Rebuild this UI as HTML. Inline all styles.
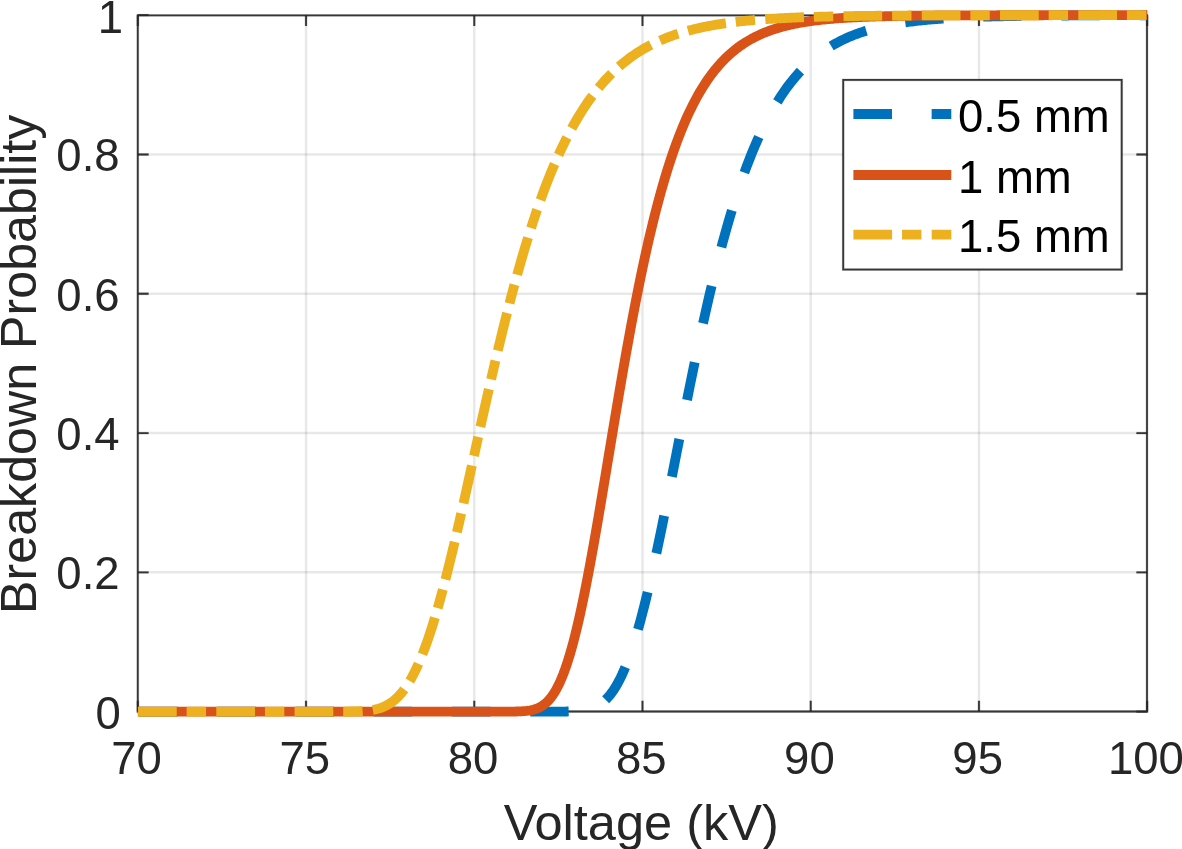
<!DOCTYPE html>
<html><head><meta charset="utf-8"><title>Breakdown Probability</title>
<style>
html,body{margin:0;padding:0;background:#fff;}
body{width:1182px;height:849px;overflow:hidden;}
svg{display:block;}
text{font-family:'Liberation Sans', Arial, sans-serif;}
</style></head><body>
<svg width="1182" height="849" viewBox="0 0 1182 849">
<rect x="0" y="0" width="1182" height="849" fill="#fff"/>
<g stroke="#262626" stroke-opacity="0.105" stroke-width="2.4" fill="none"><path d="M306.03,15.20V711.60"/><path d="M474.27,15.20V711.60"/><path d="M642.50,15.20V711.60"/><path d="M810.73,15.20V711.60"/><path d="M978.97,15.20V711.60"/><path d="M137.80,572.32H1147.20"/><path d="M137.80,433.04H1147.20"/><path d="M137.80,293.76H1147.20"/><path d="M137.80,154.48H1147.20"/></g>
<path d="M137.80,711.60V700.80M137.80,15.20V26.00M306.03,711.60V700.80M306.03,15.20V26.00M474.27,711.60V700.80M474.27,15.20V26.00M642.50,711.60V700.80M642.50,15.20V26.00M810.73,711.60V700.80M810.73,15.20V26.00M978.97,711.60V700.80M978.97,15.20V26.00M1147.20,711.60V700.80M1147.20,15.20V26.00M137.80,711.60H148.60M1147.20,711.60H1136.40M137.80,572.32H148.60M1147.20,572.32H1136.40M137.80,433.04H148.60M1147.20,433.04H1136.40M137.80,293.76H148.60M1147.20,293.76H1136.40M137.80,154.48H148.60M1147.20,154.48H1136.40M137.80,15.20H148.60M1147.20,15.20H1136.40" stroke="#262626" stroke-opacity="0.2" stroke-width="2.8" fill="none"/>
<path d="M137.80,711.60V700.80M137.80,15.20V26.00M306.03,711.60V700.80M306.03,15.20V26.00M474.27,711.60V700.80M474.27,15.20V26.00M642.50,711.60V700.80M642.50,15.20V26.00M810.73,711.60V700.80M810.73,15.20V26.00M978.97,711.60V700.80M978.97,15.20V26.00M1147.20,711.60V700.80M1147.20,15.20V26.00M137.80,711.60H148.60M1147.20,711.60H1136.40M137.80,572.32H148.60M1147.20,572.32H1136.40M137.80,433.04H148.60M1147.20,433.04H1136.40M137.80,293.76H148.60M1147.20,293.76H1136.40M137.80,154.48H148.60M1147.20,154.48H1136.40M137.80,15.20H148.60M1147.20,15.20H1136.40" stroke="#262626" stroke-opacity="0.9" stroke-width="1.8" fill="none"/>
<path d="M137.78,15.37H1147.0V711.5H137.78Z" stroke="#262626" stroke-opacity="0.2" stroke-width="2.8" fill="none"/>
<path d="M137.78,15.37H1147.0V711.5H137.78Z" stroke="#262626" stroke-opacity="0.9" stroke-width="1.8" fill="none"/>
<path d="M137.80,711.60 L139.48,711.60 L141.16,711.60 L142.85,711.60 L144.53,711.60 L146.21,711.60 L147.89,711.60 L149.58,711.60 L151.26,711.60 L152.94,711.60 L154.62,711.60 L156.31,711.60 L157.99,711.60 L159.67,711.60 L161.35,711.60 L163.03,711.60 L164.72,711.60 L166.40,711.60 L168.08,711.60 L169.76,711.60 L171.45,711.60 L173.13,711.60 L174.81,711.60 L176.49,711.60 L178.18,711.60 L179.86,711.60 L181.54,711.60 L183.22,711.60 L184.91,711.60 L186.59,711.60 L188.27,711.60 L189.95,711.60 L191.63,711.60 L193.32,711.60 L195.00,711.60 L196.68,711.60 L198.36,711.60 L200.05,711.60 L201.73,711.60 L203.41,711.60 L205.09,711.60 L206.78,711.60 L208.46,711.60 L210.14,711.60 L211.82,711.60 L213.50,711.60 L215.19,711.60 L216.87,711.60 L218.55,711.60 L220.23,711.60 L221.92,711.60 L223.60,711.60 L225.28,711.60 L226.96,711.60 L228.65,711.60 L230.33,711.60 L232.01,711.60 L233.69,711.60 L235.38,711.60 L237.06,711.60 L238.74,711.60 L240.42,711.60 L242.10,711.60 L243.79,711.60 L245.47,711.60 L247.15,711.60 L248.83,711.60 L250.52,711.60 L252.20,711.60 L253.88,711.60 L255.56,711.60 L257.25,711.60 L258.93,711.60 L260.61,711.60 L262.29,711.60 L263.97,711.60 L265.66,711.60 L267.34,711.60 L269.02,711.60 L270.70,711.60 L272.39,711.60 L274.07,711.60 L275.75,711.60 L277.43,711.60 L279.12,711.60 L280.80,711.60 L282.48,711.60 L284.16,711.60 L285.85,711.60 L287.53,711.60 L289.21,711.60 L290.89,711.60 L292.57,711.60 L294.26,711.60 L295.94,711.60 L297.62,711.60 L299.30,711.60 L300.99,711.60 L302.67,711.60 L304.35,711.60 L306.03,711.60 L307.72,711.60 L309.40,711.60 L311.08,711.60 L312.76,711.60 L314.44,711.60 L316.13,711.60 L317.81,711.60 L319.49,711.60 L321.17,711.60 L322.86,711.60 L324.54,711.60 L326.22,711.60 L327.90,711.60 L329.59,711.60 L331.27,711.60 L332.95,711.60 L334.63,711.60 L336.32,711.60 L338.00,711.60 L339.68,711.60 L341.36,711.60 L343.04,711.60 L344.73,711.60 L346.41,711.60 L348.09,711.60 L349.77,711.60 L351.46,711.60 L353.14,711.60 L354.82,711.60 L356.50,711.60 L358.19,711.60 L359.87,711.60 L361.55,711.60 L363.23,711.60 L364.91,711.60 L366.60,711.60 L368.28,711.60 L369.96,711.60 L371.64,711.60 L373.33,711.60 L375.01,711.60 L376.69,711.60 L378.37,711.60 L380.06,711.60 L381.74,711.60 L383.42,711.60 L385.10,711.60 L386.79,711.60 L388.47,711.60 L390.15,711.60 L391.83,711.60 L393.51,711.60 L395.20,711.60 L396.88,711.60 L398.56,711.60 L400.24,711.60 L401.93,711.60 L403.61,711.60 L405.29,711.60 L406.97,711.60 L408.66,711.60 L410.34,711.60 L412.02,711.60 L413.70,711.60 L415.38,711.60 L417.07,711.60 L418.75,711.60 L420.43,711.60 L422.11,711.60 L423.80,711.60 L425.48,711.60 L427.16,711.60 L428.84,711.60 L430.53,711.60 L432.21,711.60 L433.89,711.60 L435.57,711.60 L437.26,711.60 L438.94,711.60 L440.62,711.60 L442.30,711.60 L443.98,711.60 L445.67,711.60 L447.35,711.60 L449.03,711.60 L450.71,711.60 L452.40,711.60 L454.08,711.60 L455.76,711.60 L457.44,711.60 L459.13,711.60 L460.81,711.60 L462.49,711.60 L464.17,711.60 L465.85,711.60 L467.54,711.60 L469.22,711.60 L470.90,711.60 L472.58,711.60 L474.27,711.60 L475.95,711.60 L477.63,711.60 L479.31,711.60 L481.00,711.60 L482.68,711.60 L484.36,711.60 L486.04,711.60 L487.73,711.60 L489.41,711.60 L491.09,711.60 L492.77,711.60 L494.45,711.60 L496.14,711.60 L497.82,711.60 L499.50,711.60 L501.18,711.60 L502.87,711.60 L504.55,711.60 L506.23,711.60 L507.91,711.60 L509.60,711.60 L511.28,711.60 L512.96,711.60 L514.64,711.60 L516.32,711.60 L518.01,711.60 L519.69,711.60 L521.37,711.60 L523.05,711.60 L524.74,711.60 L526.42,711.60 L528.10,711.60 L529.78,711.60 L531.47,711.60 L533.15,711.60 L534.83,711.60 L536.51,711.60 L538.20,711.60 L539.88,711.60 L541.56,711.60 L543.24,711.60 L544.92,711.60 L546.61,711.60 L548.29,711.60 L549.97,711.60 L551.65,711.60 L553.34,711.59 L555.02,711.59 L556.70,711.59 L558.38,711.58 L560.07,711.57 L561.75,711.56 L563.43,711.55 L565.11,711.53 L566.79,711.50 L568.48,711.46 L570.16,711.42 L571.84,711.36 L573.52,711.29 L575.21,711.20 L576.89,711.09 L578.57,710.96 L580.25,710.79 L581.94,710.59 L583.62,710.34 L585.30,710.05 L586.98,709.71 L588.67,709.30 L590.35,708.82 L592.03,708.27 L593.71,707.63 L595.39,706.89 L597.08,706.05 L598.76,705.09 L600.44,704.00 L602.12,702.78 L603.81,701.41 L605.49,699.89 L607.17,698.20 L608.85,696.34 L610.54,694.29 L612.22,692.04 L613.90,689.60 L615.58,686.94 L617.26,684.07 L618.95,680.97 L620.63,677.65 L622.31,674.09 L623.99,670.30 L625.68,666.26 L627.36,661.99 L629.04,657.47 L630.72,652.71 L632.41,647.71 L634.09,642.48 L635.77,637.01 L637.45,631.30 L639.14,625.37 L640.82,619.22 L642.50,612.86 L644.18,606.29 L645.86,599.52 L647.55,592.55 L649.23,585.41 L650.91,578.10 L652.59,570.62 L654.28,563.00 L655.96,555.23 L657.64,547.33 L659.32,539.32 L661.01,531.20 L662.69,522.98 L664.37,514.67 L666.05,506.30 L667.73,497.86 L669.42,489.37 L671.10,480.83 L672.78,472.27 L674.46,463.69 L676.15,455.10 L677.83,446.51 L679.51,437.93 L681.19,429.37 L682.88,420.83 L684.56,412.33 L686.24,403.88 L687.92,395.48 L689.61,387.13 L691.29,378.86 L692.97,370.65 L694.65,362.53 L696.33,354.48 L698.02,346.53 L699.70,338.67 L701.38,330.91 L703.06,323.25 L704.75,315.70 L706.43,308.25 L708.11,300.92 L709.79,293.70 L711.48,286.61 L713.16,279.63 L714.84,272.77 L716.52,266.03 L718.20,259.42 L719.89,252.93 L721.57,246.57 L723.25,240.34 L724.93,234.23 L726.62,228.25 L728.30,222.39 L729.98,216.66 L731.66,211.05 L733.35,205.57 L735.03,200.21 L736.71,194.98 L738.39,189.86 L740.08,184.87 L741.76,180.00 L743.44,175.24 L745.12,170.60 L746.80,166.08 L748.49,161.67 L750.17,157.37 L751.85,153.18 L753.53,149.10 L755.22,145.12 L756.90,141.25 L758.58,137.48 L760.26,133.81 L761.95,130.24 L763.63,126.77 L765.31,123.39 L766.99,120.11 L768.67,116.91 L770.36,113.81 L772.04,110.79 L773.72,107.86 L775.40,105.01 L777.09,102.24 L778.77,99.55 L780.45,96.94 L782.13,94.40 L783.82,91.94 L785.50,89.55 L787.18,87.23 L788.86,84.98 L790.55,82.79 L792.23,80.67 L793.91,78.61 L795.59,76.61 L797.27,74.68 L798.96,72.80 L800.64,70.98 L802.32,69.21 L804.00,67.50 L805.69,65.84 L807.37,64.23 L809.05,62.67 L810.73,61.15 L812.42,59.69 L814.10,58.27 L815.78,56.89 L817.46,55.56 L819.14,54.26 L820.83,53.01 L822.51,51.80 L824.19,50.62 L825.87,49.48 L827.56,48.38 L829.24,47.31 L830.92,46.27 L832.60,45.27 L834.29,44.30 L835.97,43.36 L837.65,42.45 L839.33,41.57 L841.02,40.72 L842.70,39.89 L844.38,39.09 L846.06,38.31 L847.74,37.56 L849.43,36.84 L851.11,36.14 L852.79,35.45 L854.47,34.80 L856.16,34.16 L857.84,33.54 L859.52,32.94 L861.20,32.37 L862.89,31.81 L864.57,31.27 L866.25,30.74 L867.93,30.23 L869.61,29.74 L871.30,29.27 L872.98,28.81 L874.66,28.37 L876.34,27.94 L878.03,27.52 L879.71,27.12 L881.39,26.73 L883.07,26.35 L884.76,25.98 L886.44,25.63 L888.12,25.29 L889.80,24.96 L891.49,24.64 L893.17,24.33 L894.85,24.03 L896.53,23.74 L898.21,23.46 L899.90,23.19 L901.58,22.93 L903.26,22.67 L904.94,22.43 L906.63,22.19 L908.31,21.96 L909.99,21.74 L911.67,21.53 L913.36,21.32 L915.04,21.12 L916.72,20.92 L918.40,20.74 L920.08,20.55 L921.77,20.38 L923.45,20.21 L925.13,20.04 L926.81,19.88 L928.50,19.73 L930.18,19.58 L931.86,19.44 L933.54,19.30 L935.23,19.16 L936.91,19.03 L938.59,18.91 L940.27,18.78 L941.96,18.67 L943.64,18.55 L945.32,18.44 L947.00,18.34 L948.68,18.23 L950.37,18.13 L952.05,18.04 L953.73,17.94 L955.41,17.85 L957.10,17.76 L958.78,17.68 L960.46,17.60 L962.14,17.52 L963.83,17.44 L965.51,17.37 L967.19,17.30 L968.87,17.23 L970.55,17.16 L972.24,17.10 L973.92,17.03 L975.60,16.97 L977.28,16.92 L978.97,16.86 L980.65,16.80 L982.33,16.75 L984.01,16.70 L985.70,16.65 L987.38,16.60 L989.06,16.56 L990.74,16.51 L992.43,16.47 L994.11,16.43 L995.79,16.39 L997.47,16.35 L999.15,16.31 L1000.84,16.27 L1002.52,16.24 L1004.20,16.20 L1005.88,16.17 L1007.57,16.14 L1009.25,16.11 L1010.93,16.08 L1012.61,16.05 L1014.30,16.02 L1015.98,15.99 L1017.66,15.97 L1019.34,15.94 L1021.02,15.92 L1022.71,15.89 L1024.39,15.87 L1026.07,15.85 L1027.75,15.83 L1029.44,15.81 L1031.12,15.79 L1032.80,15.77 L1034.48,15.75 L1036.17,15.73 L1037.85,15.71 L1039.53,15.70 L1041.21,15.68 L1042.90,15.66 L1044.58,15.65 L1046.26,15.63 L1047.94,15.62 L1049.62,15.61 L1051.31,15.59 L1052.99,15.58 L1054.67,15.57 L1056.35,15.56 L1058.04,15.54 L1059.72,15.53 L1061.40,15.52 L1063.08,15.51 L1064.77,15.50 L1066.45,15.49 L1068.13,15.48 L1069.81,15.47 L1071.49,15.46 L1073.18,15.45 L1074.86,15.45 L1076.54,15.44 L1078.22,15.43 L1079.91,15.42 L1081.59,15.41 L1083.27,15.41 L1084.95,15.40 L1086.64,15.39 L1088.32,15.39 L1090.00,15.38 L1091.68,15.38 L1093.37,15.37 L1095.05,15.36 L1096.73,15.36 L1098.41,15.35 L1100.09,15.35 L1101.78,15.34 L1103.46,15.34 L1105.14,15.33 L1106.82,15.33 L1108.51,15.33 L1110.19,15.32 L1111.87,15.32 L1113.55,15.31 L1115.24,15.31 L1116.92,15.31 L1118.60,15.30 L1120.28,15.30 L1121.96,15.30 L1123.65,15.29 L1125.33,15.29 L1127.01,15.29 L1128.69,15.28 L1130.38,15.28 L1132.06,15.28 L1133.74,15.28 L1135.42,15.27 L1137.11,15.27 L1138.79,15.27 L1140.47,15.27 L1142.15,15.26 L1143.84,15.26 L1145.52,15.26 L1147.20,15.26" stroke="#0072BD" stroke-width="9.8" fill="none" stroke-dasharray="38.4 39.83" stroke-dashoffset="-1.3" stroke-linejoin="round"/>
<path d="M137.80,711.60 L139.48,711.60 L141.16,711.60 L142.85,711.60 L144.53,711.60 L146.21,711.60 L147.89,711.60 L149.58,711.60 L151.26,711.60 L152.94,711.60 L154.62,711.60 L156.31,711.60 L157.99,711.60 L159.67,711.60 L161.35,711.60 L163.03,711.60 L164.72,711.60 L166.40,711.60 L168.08,711.60 L169.76,711.60 L171.45,711.60 L173.13,711.60 L174.81,711.60 L176.49,711.60 L178.18,711.60 L179.86,711.60 L181.54,711.60 L183.22,711.60 L184.91,711.60 L186.59,711.60 L188.27,711.60 L189.95,711.60 L191.63,711.60 L193.32,711.60 L195.00,711.60 L196.68,711.60 L198.36,711.60 L200.05,711.60 L201.73,711.60 L203.41,711.60 L205.09,711.60 L206.78,711.60 L208.46,711.60 L210.14,711.60 L211.82,711.60 L213.50,711.60 L215.19,711.60 L216.87,711.60 L218.55,711.60 L220.23,711.60 L221.92,711.60 L223.60,711.60 L225.28,711.60 L226.96,711.60 L228.65,711.60 L230.33,711.60 L232.01,711.60 L233.69,711.60 L235.38,711.60 L237.06,711.60 L238.74,711.60 L240.42,711.60 L242.10,711.60 L243.79,711.60 L245.47,711.60 L247.15,711.60 L248.83,711.60 L250.52,711.60 L252.20,711.60 L253.88,711.60 L255.56,711.60 L257.25,711.60 L258.93,711.60 L260.61,711.60 L262.29,711.60 L263.97,711.60 L265.66,711.60 L267.34,711.60 L269.02,711.60 L270.70,711.60 L272.39,711.60 L274.07,711.60 L275.75,711.60 L277.43,711.60 L279.12,711.60 L280.80,711.60 L282.48,711.60 L284.16,711.60 L285.85,711.60 L287.53,711.60 L289.21,711.60 L290.89,711.60 L292.57,711.60 L294.26,711.60 L295.94,711.60 L297.62,711.60 L299.30,711.60 L300.99,711.60 L302.67,711.60 L304.35,711.60 L306.03,711.60 L307.72,711.60 L309.40,711.60 L311.08,711.60 L312.76,711.60 L314.44,711.60 L316.13,711.60 L317.81,711.60 L319.49,711.60 L321.17,711.60 L322.86,711.60 L324.54,711.60 L326.22,711.60 L327.90,711.60 L329.59,711.60 L331.27,711.60 L332.95,711.60 L334.63,711.60 L336.32,711.60 L338.00,711.60 L339.68,711.60 L341.36,711.60 L343.04,711.60 L344.73,711.60 L346.41,711.60 L348.09,711.60 L349.77,711.60 L351.46,711.60 L353.14,711.60 L354.82,711.60 L356.50,711.60 L358.19,711.60 L359.87,711.60 L361.55,711.60 L363.23,711.60 L364.91,711.60 L366.60,711.60 L368.28,711.60 L369.96,711.60 L371.64,711.60 L373.33,711.60 L375.01,711.60 L376.69,711.60 L378.37,711.60 L380.06,711.60 L381.74,711.60 L383.42,711.60 L385.10,711.60 L386.79,711.60 L388.47,711.60 L390.15,711.60 L391.83,711.60 L393.51,711.60 L395.20,711.60 L396.88,711.60 L398.56,711.60 L400.24,711.60 L401.93,711.60 L403.61,711.60 L405.29,711.60 L406.97,711.60 L408.66,711.60 L410.34,711.60 L412.02,711.60 L413.70,711.60 L415.38,711.60 L417.07,711.60 L418.75,711.60 L420.43,711.60 L422.11,711.60 L423.80,711.60 L425.48,711.60 L427.16,711.60 L428.84,711.60 L430.53,711.60 L432.21,711.60 L433.89,711.60 L435.57,711.60 L437.26,711.60 L438.94,711.60 L440.62,711.60 L442.30,711.60 L443.98,711.60 L445.67,711.60 L447.35,711.60 L449.03,711.60 L450.71,711.60 L452.40,711.60 L454.08,711.60 L455.76,711.60 L457.44,711.60 L459.13,711.60 L460.81,711.60 L462.49,711.60 L464.17,711.60 L465.85,711.60 L467.54,711.60 L469.22,711.60 L470.90,711.60 L472.58,711.60 L474.27,711.60 L475.95,711.60 L477.63,711.60 L479.31,711.60 L481.00,711.60 L482.68,711.60 L484.36,711.60 L486.04,711.60 L487.73,711.60 L489.41,711.60 L491.09,711.60 L492.77,711.60 L494.45,711.60 L496.14,711.60 L497.82,711.60 L499.50,711.60 L501.18,711.60 L502.87,711.60 L504.55,711.59 L506.23,711.59 L507.91,711.59 L509.60,711.58 L511.28,711.57 L512.96,711.55 L514.64,711.53 L516.32,711.50 L518.01,711.46 L519.69,711.40 L521.37,711.33 L523.05,711.23 L524.74,711.10 L526.42,710.94 L528.10,710.74 L529.78,710.48 L531.47,710.16 L533.15,709.77 L534.83,709.30 L536.51,708.72 L538.20,708.04 L539.88,707.23 L541.56,706.28 L543.24,705.17 L544.92,703.88 L546.61,702.41 L548.29,700.72 L549.97,698.81 L551.65,696.66 L553.34,694.26 L555.02,691.58 L556.70,688.62 L558.38,685.36 L560.07,681.80 L561.75,677.91 L563.43,673.70 L565.11,669.16 L566.79,664.29 L568.48,659.07 L570.16,653.52 L571.84,647.63 L573.52,641.41 L575.21,634.86 L576.89,627.99 L578.57,620.81 L580.25,613.33 L581.94,605.56 L583.62,597.51 L585.30,589.20 L586.98,580.64 L588.67,571.85 L590.35,562.85 L592.03,553.65 L593.71,544.27 L595.39,534.73 L597.08,525.06 L598.76,515.26 L600.44,505.35 L602.12,495.36 L603.81,485.30 L605.49,475.20 L607.17,465.06 L608.85,454.90 L610.54,444.75 L612.22,434.61 L613.90,424.50 L615.58,414.44 L617.26,404.44 L618.95,394.51 L620.63,384.66 L622.31,374.91 L623.99,365.26 L625.68,355.73 L627.36,346.32 L629.04,337.04 L630.72,327.90 L632.41,318.91 L634.09,310.06 L635.77,301.38 L637.45,292.85 L639.14,284.49 L640.82,276.29 L642.50,268.27 L644.18,260.42 L645.86,252.74 L647.55,245.24 L649.23,237.91 L650.91,230.76 L652.59,223.79 L654.28,216.99 L655.96,210.37 L657.64,203.92 L659.32,197.65 L661.01,191.54 L662.69,185.60 L664.37,179.83 L666.05,174.23 L667.73,168.79 L669.42,163.50 L671.10,158.38 L672.78,153.41 L674.46,148.59 L676.15,143.91 L677.83,139.39 L679.51,135.00 L681.19,130.75 L682.88,126.64 L684.56,122.66 L686.24,118.81 L687.92,115.09 L689.61,111.49 L691.29,108.01 L692.97,104.64 L694.65,101.39 L696.33,98.25 L698.02,95.21 L699.70,92.28 L701.38,89.45 L703.06,86.72 L704.75,84.08 L706.43,81.54 L708.11,79.08 L709.79,76.71 L711.48,74.42 L713.16,72.22 L714.84,70.09 L716.52,68.04 L718.20,66.06 L719.89,64.16 L721.57,62.32 L723.25,60.55 L724.93,58.84 L726.62,57.20 L728.30,55.61 L729.98,54.09 L731.66,52.62 L733.35,51.20 L735.03,49.84 L736.71,48.52 L738.39,47.26 L740.08,46.04 L741.76,44.87 L743.44,43.74 L745.12,42.65 L746.80,41.60 L748.49,40.60 L750.17,39.63 L751.85,38.69 L753.53,37.80 L755.22,36.93 L756.90,36.10 L758.58,35.30 L760.26,34.53 L761.95,33.79 L763.63,33.07 L765.31,32.39 L766.99,31.73 L768.67,31.09 L770.36,30.48 L772.04,29.89 L773.72,29.33 L775.40,28.78 L777.09,28.26 L778.77,27.76 L780.45,27.27 L782.13,26.81 L783.82,26.36 L785.50,25.93 L787.18,25.52 L788.86,25.12 L790.55,24.74 L792.23,24.37 L793.91,24.01 L795.59,23.67 L797.27,23.35 L798.96,23.03 L800.64,22.73 L802.32,22.44 L804.00,22.16 L805.69,21.89 L807.37,21.63 L809.05,21.38 L810.73,21.14 L812.42,20.91 L814.10,20.69 L815.78,20.48 L817.46,20.27 L819.14,20.08 L820.83,19.89 L822.51,19.71 L824.19,19.53 L825.87,19.36 L827.56,19.20 L829.24,19.05 L830.92,18.90 L832.60,18.75 L834.29,18.62 L835.97,18.48 L837.65,18.36 L839.33,18.23 L841.02,18.12 L842.70,18.00 L844.38,17.89 L846.06,17.79 L847.74,17.69 L849.43,17.59 L851.11,17.50 L852.79,17.41 L854.47,17.33 L856.16,17.24 L857.84,17.16 L859.52,17.09 L861.20,17.01 L862.89,16.94 L864.57,16.88 L866.25,16.81 L867.93,16.75 L869.61,16.69 L871.30,16.63 L872.98,16.57 L874.66,16.52 L876.34,16.47 L878.03,16.42 L879.71,16.37 L881.39,16.33 L883.07,16.28 L884.76,16.24 L886.44,16.20 L888.12,16.16 L889.80,16.13 L891.49,16.09 L893.17,16.05 L894.85,16.02 L896.53,15.99 L898.21,15.96 L899.90,15.93 L901.58,15.90 L903.26,15.87 L904.94,15.85 L906.63,15.82 L908.31,15.80 L909.99,15.77 L911.67,15.75 L913.36,15.73 L915.04,15.71 L916.72,15.69 L918.40,15.67 L920.08,15.65 L921.77,15.64 L923.45,15.62 L925.13,15.60 L926.81,15.59 L928.50,15.57 L930.18,15.56 L931.86,15.54 L933.54,15.53 L935.23,15.52 L936.91,15.50 L938.59,15.49 L940.27,15.48 L941.96,15.47 L943.64,15.46 L945.32,15.45 L947.00,15.44 L948.68,15.43 L950.37,15.42 L952.05,15.41 L953.73,15.41 L955.41,15.40 L957.10,15.39 L958.78,15.38 L960.46,15.38 L962.14,15.37 L963.83,15.36 L965.51,15.36 L967.19,15.35 L968.87,15.34 L970.55,15.34 L972.24,15.33 L973.92,15.33 L975.60,15.32 L977.28,15.32 L978.97,15.31 L980.65,15.31 L982.33,15.30 L984.01,15.30 L985.70,15.30 L987.38,15.29 L989.06,15.29 L990.74,15.29 L992.43,15.28 L994.11,15.28 L995.79,15.28 L997.47,15.27 L999.15,15.27 L1000.84,15.27 L1002.52,15.26 L1004.20,15.26 L1005.88,15.26 L1007.57,15.26 L1009.25,15.26 L1010.93,15.25 L1012.61,15.25 L1014.30,15.25 L1015.98,15.25 L1017.66,15.25 L1019.34,15.24 L1021.02,15.24 L1022.71,15.24 L1024.39,15.24 L1026.07,15.24 L1027.75,15.24 L1029.44,15.23 L1031.12,15.23 L1032.80,15.23 L1034.48,15.23 L1036.17,15.23 L1037.85,15.23 L1039.53,15.23 L1041.21,15.23 L1042.90,15.23 L1044.58,15.22 L1046.26,15.22 L1047.94,15.22 L1049.62,15.22 L1051.31,15.22 L1052.99,15.22 L1054.67,15.22 L1056.35,15.22 L1058.04,15.22 L1059.72,15.22 L1061.40,15.22 L1063.08,15.22 L1064.77,15.21 L1066.45,15.21 L1068.13,15.21 L1069.81,15.21 L1071.49,15.21 L1073.18,15.21 L1074.86,15.21 L1076.54,15.21 L1078.22,15.21 L1079.91,15.21 L1081.59,15.21 L1083.27,15.21 L1084.95,15.21 L1086.64,15.21 L1088.32,15.21 L1090.00,15.21 L1091.68,15.21 L1093.37,15.21 L1095.05,15.21 L1096.73,15.21 L1098.41,15.21 L1100.09,15.21 L1101.78,15.21 L1103.46,15.21 L1105.14,15.21 L1106.82,15.21 L1108.51,15.21 L1110.19,15.21 L1111.87,15.20 L1113.55,15.20 L1115.24,15.20 L1116.92,15.20 L1118.60,15.20 L1120.28,15.20 L1121.96,15.20 L1123.65,15.20 L1125.33,15.20 L1127.01,15.20 L1128.69,15.20 L1130.38,15.20 L1132.06,15.20 L1133.74,15.20 L1135.42,15.20 L1137.11,15.20 L1138.79,15.20 L1140.47,15.20 L1142.15,15.20 L1143.84,15.20 L1145.52,15.20 L1147.20,15.20" stroke="#D95319" stroke-width="9.8" fill="none" stroke-linejoin="round"/>
<path d="M137.80,711.60 L139.48,711.60 L141.16,711.60 L142.85,711.60 L144.53,711.60 L146.21,711.60 L147.89,711.60 L149.58,711.60 L151.26,711.60 L152.94,711.60 L154.62,711.60 L156.31,711.60 L157.99,711.60 L159.67,711.60 L161.35,711.60 L163.03,711.60 L164.72,711.60 L166.40,711.60 L168.08,711.60 L169.76,711.60 L171.45,711.60 L173.13,711.60 L174.81,711.60 L176.49,711.60 L178.18,711.60 L179.86,711.60 L181.54,711.60 L183.22,711.60 L184.91,711.60 L186.59,711.60 L188.27,711.60 L189.95,711.60 L191.63,711.60 L193.32,711.60 L195.00,711.60 L196.68,711.60 L198.36,711.60 L200.05,711.60 L201.73,711.60 L203.41,711.60 L205.09,711.60 L206.78,711.60 L208.46,711.60 L210.14,711.60 L211.82,711.60 L213.50,711.60 L215.19,711.60 L216.87,711.60 L218.55,711.60 L220.23,711.60 L221.92,711.60 L223.60,711.60 L225.28,711.60 L226.96,711.60 L228.65,711.60 L230.33,711.60 L232.01,711.60 L233.69,711.60 L235.38,711.60 L237.06,711.60 L238.74,711.60 L240.42,711.60 L242.10,711.60 L243.79,711.60 L245.47,711.60 L247.15,711.60 L248.83,711.60 L250.52,711.60 L252.20,711.60 L253.88,711.60 L255.56,711.60 L257.25,711.60 L258.93,711.60 L260.61,711.60 L262.29,711.60 L263.97,711.60 L265.66,711.60 L267.34,711.60 L269.02,711.60 L270.70,711.60 L272.39,711.60 L274.07,711.60 L275.75,711.60 L277.43,711.60 L279.12,711.60 L280.80,711.60 L282.48,711.60 L284.16,711.60 L285.85,711.60 L287.53,711.60 L289.21,711.60 L290.89,711.60 L292.57,711.60 L294.26,711.60 L295.94,711.60 L297.62,711.60 L299.30,711.60 L300.99,711.60 L302.67,711.60 L304.35,711.60 L306.03,711.60 L307.72,711.60 L309.40,711.60 L311.08,711.60 L312.76,711.60 L314.44,711.60 L316.13,711.60 L317.81,711.60 L319.49,711.60 L321.17,711.60 L322.86,711.60 L324.54,711.60 L326.22,711.60 L327.90,711.60 L329.59,711.60 L331.27,711.60 L332.95,711.60 L334.63,711.59 L336.32,711.59 L338.00,711.59 L339.68,711.59 L341.36,711.58 L343.04,711.57 L344.73,711.57 L346.41,711.55 L348.09,711.54 L349.77,711.52 L351.46,711.49 L353.14,711.46 L354.82,711.42 L356.50,711.37 L358.19,711.31 L359.87,711.24 L361.55,711.15 L363.23,711.04 L364.91,710.91 L366.60,710.76 L368.28,710.58 L369.96,710.36 L371.64,710.11 L373.33,709.81 L375.01,709.47 L376.69,709.07 L378.37,708.62 L380.06,708.10 L381.74,707.51 L383.42,706.85 L385.10,706.10 L386.79,705.26 L388.47,704.32 L390.15,703.27 L391.83,702.12 L393.51,700.84 L395.20,699.44 L396.88,697.91 L398.56,696.23 L400.24,694.41 L401.93,692.44 L403.61,690.30 L405.29,688.01 L406.97,685.54 L408.66,682.90 L410.34,680.08 L412.02,677.08 L413.70,673.90 L415.38,670.53 L417.07,666.97 L418.75,663.22 L420.43,659.27 L422.11,655.14 L423.80,650.82 L425.48,646.31 L427.16,641.61 L428.84,636.72 L430.53,631.65 L432.21,626.40 L433.89,620.98 L435.57,615.39 L437.26,609.63 L438.94,603.71 L440.62,597.64 L442.30,591.42 L443.98,585.05 L445.67,578.55 L447.35,571.93 L449.03,565.18 L450.71,558.32 L452.40,551.35 L454.08,544.28 L455.76,537.13 L457.44,529.89 L459.13,522.57 L460.81,515.20 L462.49,507.76 L464.17,500.27 L465.85,492.74 L467.54,485.17 L469.22,477.57 L470.90,469.96 L472.58,462.33 L474.27,454.69 L475.95,447.06 L477.63,439.43 L479.31,431.81 L481.00,424.22 L482.68,416.65 L484.36,409.12 L486.04,401.62 L487.73,394.16 L489.41,386.75 L491.09,379.39 L492.77,372.09 L494.45,364.85 L496.14,357.68 L497.82,350.57 L499.50,343.54 L501.18,336.58 L502.87,329.70 L504.55,322.90 L506.23,316.19 L507.91,309.56 L509.60,303.02 L511.28,296.58 L512.96,290.22 L514.64,283.96 L516.32,277.79 L518.01,271.71 L519.69,265.74 L521.37,259.86 L523.05,254.08 L524.74,248.40 L526.42,242.82 L528.10,237.34 L529.78,231.96 L531.47,226.68 L533.15,221.50 L534.83,216.42 L536.51,211.43 L538.20,206.55 L539.88,201.76 L541.56,197.07 L543.24,192.47 L544.92,187.98 L546.61,183.57 L548.29,179.26 L549.97,175.05 L551.65,170.92 L553.34,166.89 L555.02,162.94 L556.70,159.09 L558.38,155.32 L560.07,151.64 L561.75,148.04 L563.43,144.53 L565.11,141.09 L566.79,137.74 L568.48,134.47 L570.16,131.28 L571.84,128.16 L573.52,125.12 L575.21,122.16 L576.89,119.26 L578.57,116.44 L580.25,113.69 L581.94,111.01 L583.62,108.39 L585.30,105.84 L586.98,103.35 L588.67,100.93 L590.35,98.57 L592.03,96.27 L593.71,94.03 L595.39,91.85 L597.08,89.72 L598.76,87.65 L600.44,85.63 L602.12,83.67 L603.81,81.76 L605.49,79.90 L607.17,78.09 L608.85,76.32 L610.54,74.61 L612.22,72.94 L613.90,71.31 L615.58,69.73 L617.26,68.19 L618.95,66.69 L620.63,65.24 L622.31,63.82 L623.99,62.44 L625.68,61.10 L627.36,59.80 L629.04,58.53 L630.72,57.30 L632.41,56.10 L634.09,54.93 L635.77,53.80 L637.45,52.69 L639.14,51.62 L640.82,50.58 L642.50,49.57 L644.18,48.58 L645.86,47.63 L647.55,46.70 L649.23,45.79 L650.91,44.91 L652.59,44.06 L654.28,43.23 L655.96,42.42 L657.64,41.64 L659.32,40.87 L661.01,40.13 L662.69,39.42 L664.37,38.72 L666.05,38.04 L667.73,37.38 L669.42,36.74 L671.10,36.11 L672.78,35.51 L674.46,34.92 L676.15,34.35 L677.83,33.79 L679.51,33.26 L681.19,32.73 L682.88,32.22 L684.56,31.73 L686.24,31.25 L687.92,30.78 L689.61,30.33 L691.29,29.89 L692.97,29.46 L694.65,29.05 L696.33,28.65 L698.02,28.26 L699.70,27.88 L701.38,27.51 L703.06,27.15 L704.75,26.80 L706.43,26.46 L708.11,26.13 L709.79,25.82 L711.48,25.51 L713.16,25.21 L714.84,24.91 L716.52,24.63 L718.20,24.36 L719.89,24.09 L721.57,23.83 L723.25,23.58 L724.93,23.33 L726.62,23.09 L728.30,22.86 L729.98,22.64 L731.66,22.42 L733.35,22.21 L735.03,22.01 L736.71,21.81 L738.39,21.61 L740.08,21.43 L741.76,21.25 L743.44,21.07 L745.12,20.90 L746.80,20.73 L748.49,20.57 L750.17,20.41 L751.85,20.26 L753.53,20.11 L755.22,19.97 L756.90,19.83 L758.58,19.69 L760.26,19.56 L761.95,19.43 L763.63,19.31 L765.31,19.19 L766.99,19.07 L768.67,18.96 L770.36,18.85 L772.04,18.74 L773.72,18.64 L775.40,18.54 L777.09,18.44 L778.77,18.34 L780.45,18.25 L782.13,18.16 L783.82,18.08 L785.50,17.99 L787.18,17.91 L788.86,17.83 L790.55,17.75 L792.23,17.68 L793.91,17.61 L795.59,17.54 L797.27,17.47 L798.96,17.40 L800.64,17.34 L802.32,17.27 L804.00,17.21 L805.69,17.15 L807.37,17.10 L809.05,17.04 L810.73,16.99 L812.42,16.93 L814.10,16.88 L815.78,16.83 L817.46,16.79 L819.14,16.74 L820.83,16.69 L822.51,16.65 L824.19,16.61 L825.87,16.57 L827.56,16.53 L829.24,16.49 L830.92,16.45 L832.60,16.41 L834.29,16.38 L835.97,16.34 L837.65,16.31 L839.33,16.28 L841.02,16.25 L842.70,16.21 L844.38,16.18 L846.06,16.16 L847.74,16.13 L849.43,16.10 L851.11,16.07 L852.79,16.05 L854.47,16.02 L856.16,16.00 L857.84,15.98 L859.52,15.95 L861.20,15.93 L862.89,15.91 L864.57,15.89 L866.25,15.87 L867.93,15.85 L869.61,15.83 L871.30,15.81 L872.98,15.79 L874.66,15.78 L876.34,15.76 L878.03,15.74 L879.71,15.73 L881.39,15.71 L883.07,15.70 L884.76,15.68 L886.44,15.67 L888.12,15.65 L889.80,15.64 L891.49,15.63 L893.17,15.62 L894.85,15.60 L896.53,15.59 L898.21,15.58 L899.90,15.57 L901.58,15.56 L903.26,15.55 L904.94,15.54 L906.63,15.53 L908.31,15.52 L909.99,15.51 L911.67,15.50 L913.36,15.49 L915.04,15.48 L916.72,15.47 L918.40,15.47 L920.08,15.46 L921.77,15.45 L923.45,15.44 L925.13,15.44 L926.81,15.43 L928.50,15.42 L930.18,15.42 L931.86,15.41 L933.54,15.40 L935.23,15.40 L936.91,15.39 L938.59,15.39 L940.27,15.38 L941.96,15.37 L943.64,15.37 L945.32,15.36 L947.00,15.36 L948.68,15.36 L950.37,15.35 L952.05,15.35 L953.73,15.34 L955.41,15.34 L957.10,15.33 L958.78,15.33 L960.46,15.33 L962.14,15.32 L963.83,15.32 L965.51,15.32 L967.19,15.31 L968.87,15.31 L970.55,15.31 L972.24,15.30 L973.92,15.30 L975.60,15.30 L977.28,15.29 L978.97,15.29 L980.65,15.29 L982.33,15.29 L984.01,15.28 L985.70,15.28 L987.38,15.28 L989.06,15.28 L990.74,15.27 L992.43,15.27 L994.11,15.27 L995.79,15.27 L997.47,15.27 L999.15,15.26 L1000.84,15.26 L1002.52,15.26 L1004.20,15.26 L1005.88,15.26 L1007.57,15.25 L1009.25,15.25 L1010.93,15.25 L1012.61,15.25 L1014.30,15.25 L1015.98,15.25 L1017.66,15.25 L1019.34,15.24 L1021.02,15.24 L1022.71,15.24 L1024.39,15.24 L1026.07,15.24 L1027.75,15.24 L1029.44,15.24 L1031.12,15.24 L1032.80,15.23 L1034.48,15.23 L1036.17,15.23 L1037.85,15.23 L1039.53,15.23 L1041.21,15.23 L1042.90,15.23 L1044.58,15.23 L1046.26,15.23 L1047.94,15.23 L1049.62,15.23 L1051.31,15.23 L1052.99,15.22 L1054.67,15.22 L1056.35,15.22 L1058.04,15.22 L1059.72,15.22 L1061.40,15.22 L1063.08,15.22 L1064.77,15.22 L1066.45,15.22 L1068.13,15.22 L1069.81,15.22 L1071.49,15.22 L1073.18,15.22 L1074.86,15.22 L1076.54,15.22 L1078.22,15.22 L1079.91,15.22 L1081.59,15.21 L1083.27,15.21 L1084.95,15.21 L1086.64,15.21 L1088.32,15.21 L1090.00,15.21 L1091.68,15.21 L1093.37,15.21 L1095.05,15.21 L1096.73,15.21 L1098.41,15.21 L1100.09,15.21 L1101.78,15.21 L1103.46,15.21 L1105.14,15.21 L1106.82,15.21 L1108.51,15.21 L1110.19,15.21 L1111.87,15.21 L1113.55,15.21 L1115.24,15.21 L1116.92,15.21 L1118.60,15.21 L1120.28,15.21 L1121.96,15.21 L1123.65,15.21 L1125.33,15.21 L1127.01,15.21 L1128.69,15.21 L1130.38,15.21 L1132.06,15.21 L1133.74,15.21 L1135.42,15.21 L1137.11,15.21 L1138.79,15.21 L1140.47,15.21 L1142.15,15.21 L1143.84,15.20 L1145.52,15.20 L1147.20,15.20" stroke="#EDB120" stroke-width="9.8" fill="none" stroke-dasharray="38.69 9.93 19.38 10.28" stroke-dashoffset="-0.24" stroke-linejoin="round"/>
<text x="136.50" y="774" font-size="45.5" fill="#262626" text-anchor="middle">70</text>
<text x="304.73" y="774" font-size="45.5" fill="#262626" text-anchor="middle">75</text>
<text x="472.97" y="774" font-size="45.5" fill="#262626" text-anchor="middle">80</text>
<text x="641.20" y="774" font-size="45.5" fill="#262626" text-anchor="middle">85</text>
<text x="809.43" y="774" font-size="45.5" fill="#262626" text-anchor="middle">90</text>
<text x="977.67" y="774" font-size="45.5" fill="#262626" text-anchor="middle">95</text>
<text x="1145.90" y="774" font-size="45.5" fill="#262626" text-anchor="middle">100</text>
<text x="120.90" y="728.60" font-size="45.5" fill="#262626" text-anchor="end">0</text>
<text x="119.60" y="589.32" font-size="45.5" fill="#262626" text-anchor="end">0.2</text>
<text x="119.60" y="450.04" font-size="45.5" fill="#262626" text-anchor="end">0.4</text>
<text x="119.60" y="310.76" font-size="45.5" fill="#262626" text-anchor="end">0.6</text>
<text x="119.60" y="171.48" font-size="45.5" fill="#262626" text-anchor="end">0.8</text>
<text x="123.10" y="32.70" font-size="45.5" fill="#262626" text-anchor="end">1</text>
<text x="641.2" y="839.6" font-size="50.5" fill="#262626" text-anchor="middle">Voltage (kV)</text>
<text transform="translate(36,364.3) rotate(-90)" x="0" y="0" font-size="50.2" fill="#262626" text-anchor="middle">Breakdown Probability</text>
<rect x="843.2" y="79.9" width="278.50" height="189.65" fill="#fff" stroke="none"/>
<rect x="843.2" y="79.9" width="278.50" height="189.65" fill="none" stroke="#262626" stroke-opacity="0.2" stroke-width="2.8"/>
<rect x="843.2" y="79.9" width="278.50" height="189.65" fill="none" stroke="#262626" stroke-opacity="0.9" stroke-width="1.8"/>
<path d="M853.4,114.0H951.3" stroke="#0072BD" stroke-width="9.8" stroke-dasharray="38.6 39.63" fill="none"/>
<text x="958" y="131.70" font-size="45.5" fill="#000">0.5 mm</text>
<path d="M853.4,175.0H951.3" stroke="#D95319" stroke-width="9.8" fill="none"/>
<text x="958" y="192.70" font-size="45.5" fill="#000">1 mm</text>
<path d="M853.4,234.7H951.3" stroke="#EDB120" stroke-width="9.8" stroke-dasharray="38.69 9.93 19.38 10.28" fill="none"/>
<text x="958" y="252.40" font-size="45.5" fill="#000">1.5 mm</text>
</svg>
</body></html>
